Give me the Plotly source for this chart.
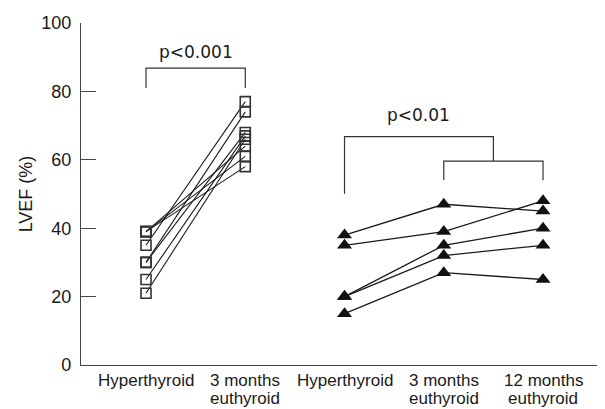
import plotly.graph_objects as go

# ---- data ----
categories = ["Hyperthyroid", "3 months<br>euthyroid", "Hyperthyroid",
              "3 months<br>euthyroid", "12 months<br>euthyroid"]
cat_pos = [0, 1, 2, 3, 4]

# Group 1 (squares): hyperthyroid -> 3 months euthyroid
g1_hyper = [39, 39, 39, 35, 30, 30, 25, 21]
g1_3mo = [58, 61, 64, 77, 74, 68, 67, 66]

# Group 2 (triangles): hyperthyroid -> 3 months -> 12 months euthyroid
g2_hyper = [38, 35, 20, 20, 15]
g2_3mo = [47, 39, 35, 32, 27]
g2_12mo = [45, 48, 40, 35, 25]

yticks = [0, 20, 40, 60, 80, 100]

# significance brackets (levels in LVEF units)
p1_text = "p&lt;0.001"
p1_top, p1_bottom, p1_label = 86.8, 81.0, 91.6
p2_text = "p&lt;0.01"
p2_top, p2_inner_top, p2_inner_bottom, p2_left_bottom, p2_label = 66.8, 59.6, 54.0, 50.1, 73.2

INK = "#1a1a1a"
FONT = "Liberation Sans"

fig = go.Figure()

# group 1 lines + open squares
x1, y1 = [], []
for a, b in zip(g1_hyper, g1_3mo):
    x1 += [cat_pos[0], cat_pos[1], None]
    y1 += [a, b, None]
fig.add_trace(go.Scatter(
    x=x1, y=y1, mode="lines+markers",
    line=dict(color=INK, width=1.1),
    marker=dict(symbol="square-open", size=10, color="#333333",
                line=dict(width=1.6, color="#333333")),
    showlegend=False, hoverinfo="skip"))

# group 2 lines + filled triangles
x2, y2 = [], []
for a, b, c in zip(g2_hyper, g2_3mo, g2_12mo):
    x2 += [cat_pos[2], cat_pos[3], cat_pos[4], None]
    y2 += [a, b, c, None]
fig.add_trace(go.Scatter(
    x=x2, y=y2, mode="lines+markers",
    line=dict(color=INK, width=1.3),
    marker=dict(symbol="triangle-up", size=13, color="#111111"),
    showlegend=False, hoverinfo="skip"))

line_style = dict(color="#333333", width=1.2)
# bracket 1
fig.add_shape(type="path", xref="x", yref="y",
              path=f"M {cat_pos[0]},{p1_bottom} L {cat_pos[0]},{p1_top} "
                   f"L {cat_pos[1]},{p1_top} L {cat_pos[1]},{p1_bottom}",
              line=line_style)
# bracket 2: inner bracket between 3 and 12 months
fig.add_shape(type="path", xref="x", yref="y",
              path=f"M {cat_pos[3]},{p2_inner_bottom} L {cat_pos[3]},{p2_inner_top} "
                   f"L {cat_pos[4]},{p2_inner_top} L {cat_pos[4]},{p2_inner_bottom}",
              line=line_style)
mid = (cat_pos[3] + cat_pos[4]) / 2
fig.add_shape(type="path", xref="x", yref="y",
              path=f"M {cat_pos[2]},{p2_left_bottom} L {cat_pos[2]},{p2_top} "
                   f"L {mid},{p2_top} L {mid},{p2_inner_top}",
              line=line_style)

fig.add_annotation(x=(cat_pos[0] + cat_pos[1]) / 2, y=p1_label, text=p1_text,
                   showarrow=False, xref="x", yref="y",
                   font=dict(family="DejaVu Sans", size=17, color=INK))
fig.add_annotation(x=(cat_pos[2] + mid) / 2, y=p2_label, text=p2_text,
                   showarrow=False, xref="x", yref="y",
                   font=dict(family="DejaVu Sans", size=17, color=INK))

# category labels (drawn as annotations for tighter line spacing)
for pos, label in zip(cat_pos, categories):
    for i, part in enumerate(label.split("<br>")):
        fig.add_annotation(x=pos, y=0, xref="x", yref="paper", text=part,
                           showarrow=False, yanchor="middle", yshift=-15 - 18 * i,
                           font=dict(family=FONT, size=17, color=INK))

# page body adds an 8px offset, so the figure is sized to the visible area
fig.update_layout(
    width=597, height=401,
    margin=dict(l=73, r=5, t=15, b=44),
    paper_bgcolor="white", plot_bgcolor="white",
    font=dict(family=FONT, size=17, color=INK),
)
fig.update_xaxes(
    range=[-0.655, 4.574], tickvals=cat_pos, showticklabels=False,
    showline=True, linecolor="#444444", linewidth=1.2, ticks="",
    showgrid=False, zeroline=False, automargin=False,
)
fig.update_yaxes(
    range=[0, 100], tickvals=yticks, ticks="inside", ticklen=15,
    tickwidth=1.2, tickcolor="#444444", ticklabelstandoff=5,
    showline=True, linecolor="#444444", linewidth=1.2,
    showgrid=False, zeroline=False, tickfont=dict(size=18, color=INK),
    automargin=False,
    title=dict(text="LVEF (%)", font=dict(size=18, color=INK), standoff=3),
)

fig.write_html("out.html")
